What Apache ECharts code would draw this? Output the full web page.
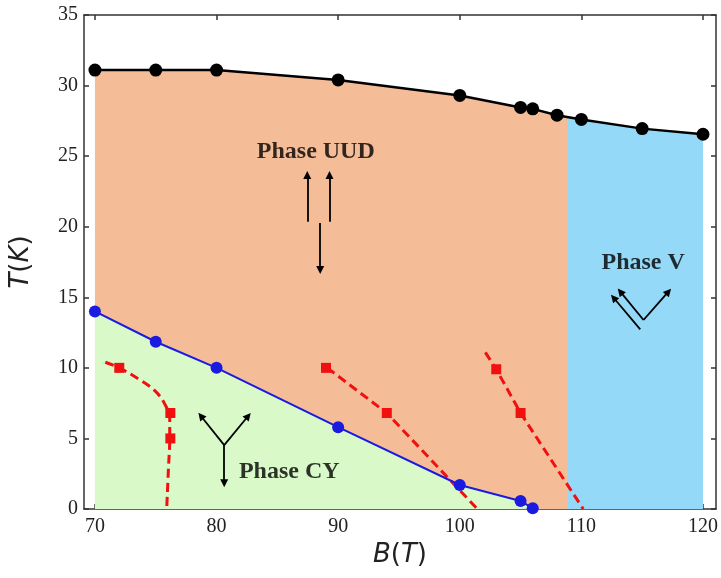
<!DOCTYPE html>
<html><head><meta charset="utf-8">
<script src="https://cdn.jsdelivr.net/npm/echarts@6/dist/echarts.min.js"></script>
<style>html,body{margin:0;padding:0;background:#fff}#c{width:721px;height:578px}</style>
</head><body><div id="c"></div>
<script>
// Tick values
const xTickValues = [70, 80, 90, 100, 110, 120];
const yTickValues = [0, 5, 10, 15, 20, 25, 30, 35];

// Upper transition line (black)
const upperB = [70, 75, 80, 90, 100, 105, 106, 108, 110, 115, 120];
const upperT = [31.1, 31.1, 31.1, 30.4, 29.3, 28.45, 28.35, 27.9, 27.6, 26.95, 26.55];

// CY / UUD boundary (blue)
const cyB = [70, 75, 80, 90, 100, 105, 106];
const cyT = [14.0, 11.85, 10.0, 5.8, 1.7, 0.57, 0.05];

// UUD / V boundary field
const phaseBoundaryB = 108.9;

// Red dashed curves
const red1B = [70.85, 72, 73.6, 74.9, 75.7, 76.15, 76.15, 76.05, 75.9];
const red1T = [10.4, 10.0, 9.2, 8.4, 7.5, 6.4, 5.0, 3.0, 0];
const red2B = [89.1, 94, 101.45];
const red2T = [10.0, 6.8, 0];
const red3B = [102.1, 103, 105, 110.15];
const red3T = [11.1, 9.9, 6.8, 0];

// Red square points
const sqB = [72, 76.2, 76.2, 89, 94, 103, 105];
const sqT = [10.0, 6.8, 5.0, 10.0, 6.8, 9.9, 6.8];

// Phase labels (data coords)
const phaseNames = ['Phase UUD', 'Phase V', 'Phase CY'];
const phaseB = [88.16, 115.08, 85.98];
const phaseT = [25.29, 17.43, 2.62];

// Spin arrows [B1, T1, B2, T2] (start -> tip)
const arrows = [
  [87.46, 20.36, 87.46, 23.66],
  [89.29, 20.36, 89.29, 23.66],
  [88.52, 20.26, 88.52, 16.93],
  [114.84, 12.73, 112.65, 14.97],
  [115.11, 13.39, 113.2, 15.40],
  [115.11, 13.39, 117.16, 15.40],
  [80.63, 4.53, 78.71, 6.59],
  [80.63, 4.53, 82.6, 6.59],
  [80.63, 4.53, 80.63, 1.82]
];

const orangeFill = '#f5bd97';
const greenFill = '#d9f9c8';
const blueFill = '#94d9f8';

const zip = (a, b) => a.map((v, i) => [v, b[i]]);

const axisCol = '#333';
const tickFont = { fontFamily: 'Liberation Serif', fontSize: 20, color: '#222' };
const nameStyle = {
  fontFamily: 'DejaVu Sans', fontSize: 26, color: '#222',
  rich: { i: { fontFamily: 'DejaVu Sans', fontStyle: 'italic', fontSize: 26, color: '#222' } }
};

function xAx(pos, showLabel) {
  return {
    type: 'value', min: 69.1, max: 121.07, position: pos,
    axisLine: { show: true, onZero: false, lineStyle: { color: axisCol, width: 1.5 } },
    axisTick: { show: true, inside: true, length: 5, customValues: xTickValues, lineStyle: { color: axisCol, width: 1.5 } },
    axisLabel: Object.assign({ show: showLabel, customValues: xTickValues, margin: 8 }, tickFont),
    splitLine: { show: false },
    name: showLabel ? '{i|B}({i|T})' : '',
    nameLocation: 'middle', nameGap: 33, nameTextStyle: nameStyle
  };
}
function yAx(pos, showLabel) {
  return {
    type: 'value', min: 0, max: 35, interval: 5, position: pos,
    axisLine: { show: true, onZero: false, lineStyle: { color: axisCol, width: 1.5 } },
    axisTick: { show: true, inside: true, length: 5, lineStyle: { color: axisCol, width: 1.5 } },
    axisLabel: Object.assign({ show: showLabel, margin: 6 }, tickFont),
    splitLine: { show: false },
    name: showLabel ? '{i|T}({i|K})' : '',
    nameLocation: 'middle', nameGap: 50, nameTextStyle: nameStyle
  };
}

const redLine = (b, t, smooth) => ({
  type: 'line', data: zip(b, t), symbol: 'none', smooth: smooth, z: 3, silent: true,
  lineStyle: { color: '#f01010', width: 3, type: [9, 5] }
});

const option = {
  animation: false,
  backgroundColor: '#fff',
  grid: { left: 82, right: 5, top: 15, bottom: 69 },
  xAxis: [xAx('bottom', true), xAx('top', false)],
  yAxis: [yAx('left', true), yAx('right', false)],
  visualMap: [{
    type: 'piecewise', show: false, dimension: 0, seriesIndex: 0,
    pieces: [
      { gte: 60, lt: phaseBoundaryB, color: orangeFill },
      { gte: phaseBoundaryB, lte: 130, color: blueFill }
    ]
  }],
  series: [
    { type: 'line', data: zip(upperB, upperT), symbol: 'none', z: 1, silent: true,
      lineStyle: { width: 0, opacity: 0 }, areaStyle: { opacity: 1 } },
    { type: 'line', data: zip(cyB, cyT), symbol: 'none', z: 2, silent: true,
      lineStyle: { width: 0, opacity: 0 }, areaStyle: { color: greenFill, opacity: 1 } },
    redLine(red1B, red1T, 0.4),
    redLine(red2B, red2T, false),
    redLine(red3B, red3T, false),
    { type: 'scatter', data: zip(sqB, sqT), symbol: 'rect', symbolSize: 10, z: 4,
      itemStyle: { color: '#f01010', opacity: 1 } },
    { type: 'line', data: zip(cyB, cyT), symbol: 'circle', symbolSize: 12, z: 5,
      lineStyle: { color: '#1a1ae0', width: 2 }, itemStyle: { color: '#1a1ae0' } },
    { type: 'line', data: zip(upperB, upperT), symbol: 'circle', symbolSize: 13, z: 5,
      lineStyle: { color: '#000', width: 2.5 }, itemStyle: { color: '#000' } },
    { type: 'scatter', z: 7, silent: true,
      data: phaseNames.map((n, i) => [phaseB[i], phaseT[i], n]),
      symbolSize: 1, itemStyle: { color: 'rgba(0,0,0,0)' },
      label: { show: true, position: 'inside', formatter: p => p.data[2],
        fontFamily: 'Liberation Serif', fontWeight: 'bold', fontSize: 24, color: '#000' },
      markLine: {
        silent: true, animation: false, symbol: ['none', 'triangle'], symbolSize: 8,
        lineStyle: { color: '#000', width: 1.8, type: 'solid' }, label: { show: false },
        itemStyle: { color: '#000' },
        data: arrows.map(a => [{ coord: [a[0], a[1]] }, { coord: [a[2], a[3]] }])
      }
    }
  ]
};

const chart = echarts.init(document.getElementById('c'));
chart.setOption(option);
</script>
</body></html>
